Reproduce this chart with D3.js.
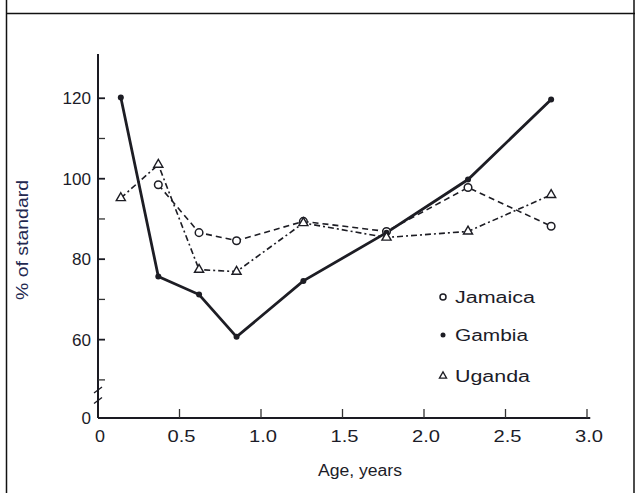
<!DOCTYPE html>
<html>
<head>
<meta charset="utf-8">
<script src="https://cdn.jsdelivr.net/npm/d3@7"></script>
<style>
  body { margin: 0; background: #fff; }
  text { font-family: "Liberation Sans", Arial, sans-serif; fill: #1c1c28; }
</style>
</head>
<body>
<div id="chart"></div>
<script>
const width = 635, height = 493;

// ages (years) and % of standard
const ages = [0.14, 0.37, 0.62, 0.85, 1.26, 1.77, 2.27, 2.78];
const jamaica = [null, 98.5, 86.6, 84.6, 89.4, 86.9, 97.8, 88.2];
const gambia = [120.2, 75.7, 71.2, 60.7, 74.6, 86.6, 99.8, 119.7];
const uganda = [95.2, 103.5, 77.4, 76.9, 89, 85.4, 86.9, 96];

const xTicks = [0, 0.5, 1, 1.5, 2, 2.5, 3];
const xTickLabels = ["0", "0.5", "1.0", "1.5", "2.0", "2.5", "3.0"];
const yMajor = [0, 60, 80, 100, 120];
const yMinor = [50, 70, 90, 110];
const legendNames = ["Jamaica", "Gambia", "Uganda"];

const x = d3.scaleLinear().domain([0, 3]).range([98, 587]);
// broken axis: 0 sits at the bottom, 45..131 is linear
const y = d3.scaleLinear().domain([0, 45, 131]).range([418, 400, 54]);

const svg = d3.select('#chart').append("svg")
    .attr("width", width)
    .attr("height", height);

// frame round the figure
svg.append("line").attr("x1", 6.5).attr("x2", 6.5).attr("y1", 0).attr("y2", height)
    .attr("stroke", "#111").attr("stroke-width", 1.5)
svg.append("line").attr("x1", 6).attr("x2", width).attr("y1", 13.5).attr("y2", 13.5)
    .attr("stroke", "#111").attr("stroke-width", 1.5)
svg.append("line").attr("x1", width - 1).attr("x2", width - 1).attr("y1", 0).attr("y2", height)
    .attr("stroke", "#111").attr("stroke-width", 1.5)

// faint scan streaks
const grad = svg.append("defs").append("linearGradient").attr("id", "streak")
grad.append("stop").attr("offset", "0%").attr("stop-color", "#9ee8f0")
grad.append("stop").attr("offset", "35%").attr("stop-color", "#b9a6d8")
grad.append("stop").attr("offset", "70%").attr("stop-color", "#f0c890")
grad.append("stop").attr("offset", "100%").attr("stop-color", "#c8f0f4")

svg.append("line").attr("x1", 20).attr("x2", width).attr("y1", 38).attr("y2", 38)
    .attr("stroke", "url(#streak)").attr("stroke-width", 2).attr("opacity", 0.6)
svg.append("line").attr("x1", x(0.72)).attr("x2", x(3.0)).attr("y1", y(100)).attr("y2", y(100))
    .attr("stroke", "url(#streak)").attr("stroke-width", 2).attr("opacity", 0.7)

// y axis
const yAxis = svg.append("g")
yAxis.append("line").attr("x1", x(0)).attr("x2", x(0)).attr("y1", y(131)).attr("y2", y(0))
    .attr("stroke", "#1a1a22").attr("stroke-width", 2)
yAxis.selectAll(".major").data(yMajor.filter(d => d > 0)).enter().append("line")
    .attr("x1", x(0)).attr("x2", x(0) + 7).attr("y1", d => y(d)).attr("y2", d => y(d))
    .attr("stroke", "#1a1a22").attr("stroke-width", 1.8)
yAxis.selectAll(".minor").data(yMinor).enter().append("line")
    .attr("x1", x(0)).attr("x2", x(0) + 7).attr("y1", d => y(d)).attr("y2", d => y(d))
    .attr("stroke", "#333").attr("stroke-width", 1.3)
yAxis.selectAll("text").data(yMajor).enter().append("text")
    .attr("x", x(0) - 7).attr("y", d => y(d) + 6)
    .attr("text-anchor", "end")
    .attr("textLength", d => String(d).length * 9.5)
    .attr("lengthAdjust", "spacingAndGlyphs")
    .style("font-size", "16px")
    .text(d => d)

// axis break
yAxis.selectAll(".brk").data([44, 47.5]).enter().append("line")
    .attr("x1", x(0) - 4).attr("x2", x(0) + 4)
    .attr("y1", d => y(d) + 3).attr("y2", d => y(d) - 3)
    .attr("stroke", "#1a1a22").attr("stroke-width", 1.3)

// x axis
const xAxis = svg.append("g")
xAxis.append("line").attr("x1", x(0)).attr("x2", x(3.02)).attr("y1", y(0)).attr("y2", y(0))
    .attr("stroke", "#1a1a22").attr("stroke-width", 2)
xAxis.selectAll(".tk").data(xTicks.slice(1)).enter().append("line")
    .attr("x1", d => x(d)).attr("x2", d => x(d)).attr("y1", y(0)).attr("y2", y(0) - 9)
    .attr("stroke", "#333").attr("stroke-width", 1.3)
xAxis.selectAll("text").data(xTicks).enter().append("text")
    .attr("x", d => x(d) + 2).attr("y", y(0) + 24)
    .attr("text-anchor", "middle")
    .attr("textLength", (d, i) => xTickLabels[i].length == 1 ? 10 : 28)
    .attr("lengthAdjust", "spacingAndGlyphs")
    .style("font-size", "16px")
    .text((d, i) => xTickLabels[i])

// axis titles
svg.append("text")
    .attr("transform", "translate(28," + 240 + ") rotate(-90)")
    .attr("text-anchor", "middle")
    .attr("textLength", 120)
    .attr("lengthAdjust", "spacingAndGlyphs")
    .style("font-size", "16px")
    .style("fill", "#232850")
    .text("% of standard")
svg.append("text")
    .attr("x", 360).attr("y", 476)
    .attr("text-anchor", "middle")
    .attr("textLength", 84)
    .attr("lengthAdjust", "spacingAndGlyphs")
    .style("font-size", "16px")
    .text("Age, years")

// lines
const line = d3.line()
    .defined(d => d[1] != null)
    .x(d => x(d[0]))
    .y(d => y(d[1]));

const series = [
    { name: "Jamaica", vals: jamaica, dash: "6,4", w: 1.6 },
    { name: "Gambia", vals: gambia, dash: null, w: 2.8 },
    { name: "Uganda", vals: uganda, dash: "6,3,2,3", w: 1.6 }
];

series.forEach(s => {
    const pts = ages.map((a, i) => [a, s.vals[i]]).filter(d => d[1] != null);
    svg.append("path")
        .datum(pts)
        .attr("d", line)
        .attr("fill", "none")
        .attr("stroke", "#1d1d24")
        .attr("stroke-width", s.w)
        .attr("stroke-dasharray", s.dash)
    s.pts = pts;
})

const tri = d3.symbol().type(d3.symbolTriangle).size(36);

// markers
svg.append("g").selectAll("circle").data(series[0].pts).enter().append("circle")
    .attr("cx", d => x(d[0])).attr("cy", d => y(d[1])).attr("r", 3.8)
    .attr("fill", "#fff").attr("stroke", "#1d1d24").attr("stroke-width", 1.5)
svg.append("g").selectAll("circle").data(series[1].pts).enter().append("circle")
    .attr("cx", d => x(d[0])).attr("cy", d => y(d[1])).attr("r", 3)
    .attr("fill", "#1d1d24")
svg.append("g").selectAll("path").data(series[2].pts).enter().append("path")
    .attr("d", tri)
    .attr("transform", d => "translate(" + x(d[0]) + "," + y(d[1]) + ")")
    .attr("fill", "#fff").attr("stroke", "#1d1d24").attr("stroke-width", 1.4)

// legend
const legendWidths = [80, 73, 75];
const legend = svg.append("g").attr("transform", "translate(443,297)")
legendNames.forEach((n, i) => {
    const g = legend.append("g").attr("transform", "translate(0," + [0, 38, 79][i] + ")")
    if (i == 0) g.append("circle").attr("r", 3).attr("fill", "#fff").attr("stroke", "#1d1d24").attr("stroke-width", 1.5)
    if (i == 1) g.append("circle").attr("r", 2.5).attr("fill", "#1d1d24")
    if (i == 2) g.append("path").attr("d", d3.symbol().type(d3.symbolTriangle).size(22))
        .attr("fill", "#fff").attr("stroke", "#1d1d24").attr("stroke-width", 1.3)
    g.append("text").attr("x", 12).attr("y", 6)
        .attr("textLength", legendWidths[i])
        .attr("lengthAdjust", "spacingAndGlyphs")
        .style("font-size", "16px")
        .text(n)
})
</script>
</body>
</html>
